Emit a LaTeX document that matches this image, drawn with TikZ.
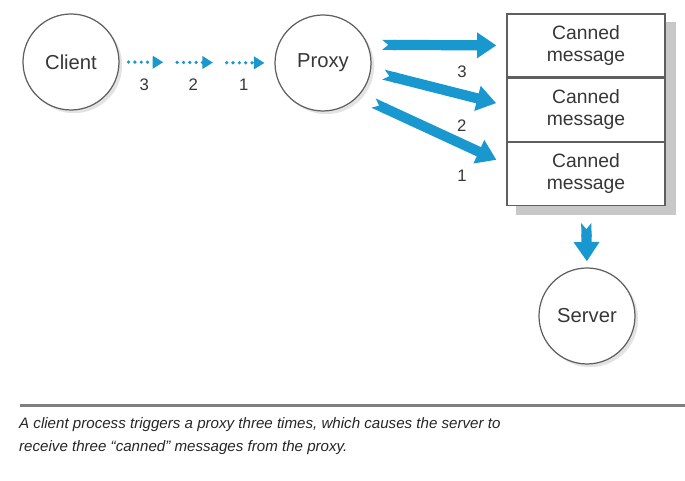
\documentclass[tikz,border=0pt]{standalone}
\usepackage{fontspec}
\setmainfont{Liberation Sans}
\usepackage{xcolor}
\definecolor{msgblue}{RGB}{24, 152, 207}
\definecolor{msgtext}{RGB}{55, 55, 55}
\definecolor{msgline}{RGB}{95, 95, 95}
\definecolor{msgshadow}{RGB}{200, 200, 200}
\usetikzlibrary{arrows.meta, positioning, calc, shadows, backgrounds}

\begin{document}
\begin{tikzpicture}[
    >=Stealth,
    proc/.style={circle, draw=msgline, line width=0.7pt, fill=white, minimum size=1.92cm,
        text=msgtext, font=\fontsize{11.5}{13}\selectfont,
        drop shadow={shadow xshift=1.8pt, shadow yshift=-1.8pt, fill=msgshadow}},
    canned/.style={rectangle, draw=msgline, line width=0.7pt, fill=white, minimum width=3.16cm,
        minimum height=1.26cm, align=center, text=msgtext, font=\fontsize{11}{12.5}\selectfont},
    bigarrow/.style={msgblue, line width=5.8pt,
        {Triangle Cap[reversed, length=3.5pt]}-{Triangle[length=11pt, width=14pt]}},
    dotarrow/.style={msgblue, line width=2.1pt, line cap=round, dash pattern=on 0pt off 3.6pt,
        -{Triangle[length=6pt, width=7pt]}},
    num/.style={text=msgtext, font=\fontsize{9.5}{11}\selectfont}
]
\useasboundingbox (0, 0) rectangle (13.7, 9.62);

% === Procesos ===
\node[proc] (client) at (1.42, 8.38) {Client};
\node[proc] (proxy) at (6.46, 8.36) {Proxy};
\node[proc] (server) at (11.74, 3.30) {Server};

% === Mensajes ===
\node[canned] (msg3) at (11.72, 8.71) {Canned\\message};
\node[canned, below=0pt of msg3] (msg2) {Canned\\message};
\node[canned, below=0pt of msg2] (msg1) {Canned\\message};

\begin{scope}[on background layer]
    \fill[msgshadow] ([shift={(0.2, -0.18)}]msg1.south west) rectangle ([shift={(0.2, -0.18)}]msg3.north east);
\end{scope}

% === Flechas punteadas: client -> proxy ===
\foreach \a/\b/\n in {0.058/0.282/3, 0.372/0.603/2, 0.692/0.936/1}
    \draw[dotarrow] ($(client.east)!\a!(proxy.west)$)
        -- node[num, pos=0.45, below=0.18cm] {\n} ($(client.east)!\b!(proxy.west)$);

% === Flechas gruesas: proxy -> mensajes ===
\draw[bigarrow, shorten <=0.28cm, shorten >=0.2cm] (proxy.22) -- node[num, pos=0.68, below=0.2cm] {3} (msg3.west);
\draw[bigarrow, shorten <=0.26cm, shorten >=0.21cm] (proxy.-10) -- node[num, pos=0.67, below=0.28cm] {2} ([yshift=0.08cm]msg2.west);
\draw[bigarrow, shorten <=0.33cm, shorten >=0.22cm] (proxy.-43) -- node[num, pos=0.7, below=0.3cm] {1} ([yshift=0.19cm]msg1.west);

% mensajes -> server
\draw[bigarrow, shorten <=0.34cm, shorten >=0.12cm] (msg1.south) -- (server.north);

% === Pie ===
\draw[msgline!80, line width=1.2pt] (0.4, 1.51) -- (13.7, 1.51);
\node[anchor=west, align=left, text=black!85, font=\fontsize{8.6}{13}\itshape] (caption) at (0.26, 0.89)
    {A client process triggers a proxy three times, which causes the server to\\
     receive three ``canned'' messages from the proxy.};

\end{tikzpicture}
\end{document}
